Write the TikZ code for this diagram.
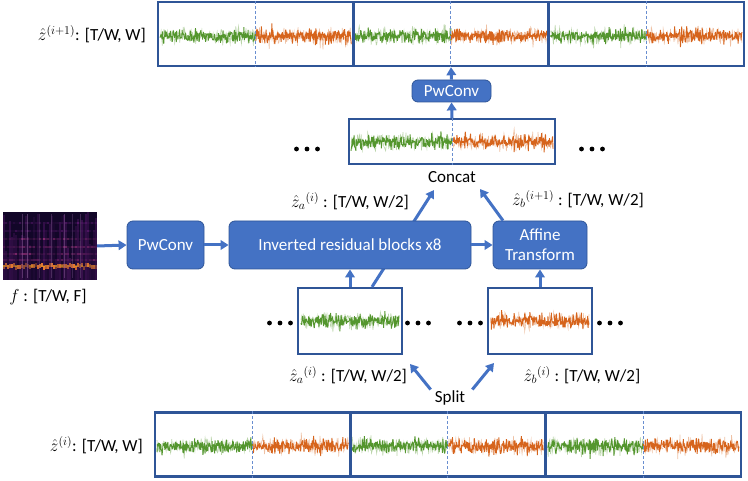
\documentclass[tikz,border=0pt]{standalone}
\usepackage{fontspec}
\setmainfont{Carlito}
\usepackage{tikz}
\usetikzlibrary{arrows.meta}
\definecolor{boxblue}{RGB}{68,114,196}
\definecolor{edgeblue}{RGB}{47,85,151}
\definecolor{sgreen}{RGB}{84,150,46}
\definecolor{sorange}{RGB}{214,100,28}
\definecolor{specbg}{RGB}{18,6,40}
\definecolor{specpurple}{RGB}{110,30,130}
\definecolor{specmag}{RGB}{190,60,140}
\definecolor{specorange}{RGB}{245,130,50}

\begin{document}
\begin{tikzpicture}[x=1pt,y=-1pt,
  every node/.style={font=\fontsize{17}{20}\selectfont, inner sep=1pt},
  blk/.style={draw=edgeblue, line width=.8pt, fill=boxblue, text=white, rounded corners=6pt, align=center, inner sep=2pt},
  strip/.style={draw=edgeblue, line width=2.4pt, minimum width=195.3pt, minimum height=64pt, inner sep=0pt},
  win/.style={draw=edgeblue, line width=2.2pt, minimum width=104pt, minimum height=66pt, inner sep=0pt},
  arr/.style={draw=boxblue, line width=3pt, -{Triangle[length=8pt,width=9.5pt]}},
  half/.style={draw=boxblue!80, line width=1pt, dash pattern=on 3pt off 2pt},
  declare function={spk(\u)=\u*\u*\u*\u*\u*\u*\u;}]
  \useasboundingbox (0,0) rectangle (748,481);
  \pgfmathsetseed{11}
  \def\noise#1#2#3#4{%
    \draw[#4, opacity=.4, line width=.6pt] plot[domain=#1:#2, samples=170, variable=\t] (\t,{#3+3.9*(rand+rand+rand)+6*spk(rand)});
    \draw[#4, line width=.9pt, line join=bevel] plot[domain=#1:#2, samples=230, variable=\t] (\t,{#3+3.4*(rand+rand+rand)+5*spk(rand)});}
  \def\tdots#1#2{\foreach \d in {-10.5,0,10.5} \fill ({#1+\d},#2) circle[radius=2.4pt];}

  % spectrogram
  \fill[specbg] (3,212) rectangle (97,280);
  \foreach \i in {0,...,46}{
    \pgfmathsetmacro\xs{3+2*\i}
    \pgfmathsetmacro\oa{0.05+0.35*rnd}
    \pgfmathsetmacro\ha{20+48*rnd}
    \fill[specpurple, opacity=\oa] (\xs,280) rectangle ++(2,-\ha);
    \foreach \yy/\cc in {222/specpurple,230/specpurple,238/specmag,246/specmag,253/specmag,259/specmag}{
      \pgfmathsetmacro\ob{0.6*rnd*rnd+0.05}
      \fill[\cc, opacity=\ob] (\xs,\yy) rectangle ++(2,2.5);
    }
    \pgfmathsetmacro\oc{0.3+0.7*rnd}
    \fill[specorange, opacity=\oc] (\xs,{263+3*rnd}) rectangle ++(2,4);
    \pgfmathsetmacro\od{0.5*rnd*rnd}
    \fill[yellow!70!orange, opacity=\od] (\xs,265) rectangle ++(2,2);
  }
  \foreach \xs/\o in {22/.35,27/.45,39/.25,51/.3,64/.35,72/.25,80/.3}
    \fill[specpurple!60!white, opacity=\o] (\xs,214) rectangle ++(1.2,64);
  \node[minimum width=94pt, minimum height=68pt, inner sep=0pt] (spec) at (50,246) {};
  \node (flbl) at (48,297) {$f$ : [T/W, F]};

  % output and input strips
  \foreach \k in {0,1,2}{
    \pgfmathsetmacro\xa{160+195.3*\k}
    \pgfmathsetmacro\xb{158+195.3*\k+97.6}
    \pgfmathsetmacro\xc{156+195.3*(\k+1)}
    \noise{\xa}{\xb}{36}{sgreen}
    \noise{\xb}{\xc}{36}{sorange}
    \pgfmathsetmacro\xa{157+195.3*\k}
    \pgfmathsetmacro\xb{155+195.3*\k+97.6}
    \pgfmathsetmacro\xc{153+195.3*(\k+1)}
    \noise{\xa}{\xb}{446}{sgreen}
    \noise{\xb}{\xc}{446}{sorange}
  }
  \foreach \k in {1,2,3}{
    \node[strip] (t\k) at ({158+195.3*(\k-.5)},34) {};
    \draw[half] (t\k.north) -- (t\k.south);
    \node[strip] (b\k) at ({155+195.3*(\k-.5)},444.5) {};
    \draw[half] (b\k.north) -- (b\k.south);
  }
  \node[anchor=east] (toplbl) at (147,34) {$\hat{z}^{(i+1)}$: [T/W, W]};
  \node[anchor=east] (botlbl) at (144,445) {$\hat{z}^{(i)}$: [T/W, W]};

  % concat window
  \noise{351}{452}{142}{sgreen}
  \noise{452}{553}{142}{sorange}
  \node[strip, minimum width=206pt, minimum height=45pt, line width=2pt] (cat) at (452,141.5) {};
  \draw[half] (cat.north) -- (cat.south);
  \node (catlbl) at (452,177) {Concat};
  \tdots{307}{149}
  \tdots{592}{149}

  % split windows
  \noise{301}{399}{321}{sgreen}
  \node[win] (za) at (350,321) {};
  \noise{491}{589}{321}{sorange}
  \node[win] (zb) at (540,321) {};
  \tdots{280}{323}
  \tdots{418}{323}
  \tdots{470}{323}
  \tdots{610}{323}
  \node (zalbl) at (348,375) {$\hat{z}_a{}^{(i)}$ : [T/W, W/2]};
  \node (zblbl) at (582,375) {$\hat{z}_b{}^{(i)}$ : [T/W, W/2]};
  \node (split) at (450,398) {Split};
  \node (zaout) at (350,201) {$\hat{z}_a{}^{(i)}$ : [T/W, W/2]};
  \node (zbout) at (578,199) {$\hat{z}_b{}^{(i+1)}$ : [T/W, W/2]};

  \coordinate (ina) at (434,190);
  \coordinate (inb) at (480,189);
  \coordinate (sa) at (410,364);
  \coordinate (sb) at (494,363);
  \draw[arr] ([xshift=22pt]za.north) -- (ina);

  % main row
  \node[blk, minimum width=77pt, minimum height=48pt] (pw1) at (165.5,245) {PwConv};
  \node[blk, minimum width=242pt, minimum height=48pt] (irb) at (350,245) {Inverted residual blocks x8};
  \node[blk, minimum width=94pt, minimum height=48pt] (aff) at (540,245) {Affine\\Transform};
  \node[blk, minimum width=79pt, minimum height=22pt] (pw2) at (451.5,91) {PwConv};

  \draw[arr] (spec.east) -- (pw1.west);
  \draw[arr] (pw1) -- (irb);
  \draw[arr] (irb) -- (aff);
  \draw[arr] (za.north) -- (za.north |- irb.south);
  \draw[arr] (zb.north) -- (zb.north |- aff.south);
  \draw[arr] ([xshift=-37pt]aff.north) -- (inb);
  \draw[arr] (cat.north) -- (pw2.south);
  \draw[arr] (pw2.north) -- (t2.south);
  \draw[arr] ([xshift=-3pt]split.north west) -- (sa);
  \draw[arr] ([xshift=6pt]split.north east) -- (sb);
\end{tikzpicture}
\end{document}
